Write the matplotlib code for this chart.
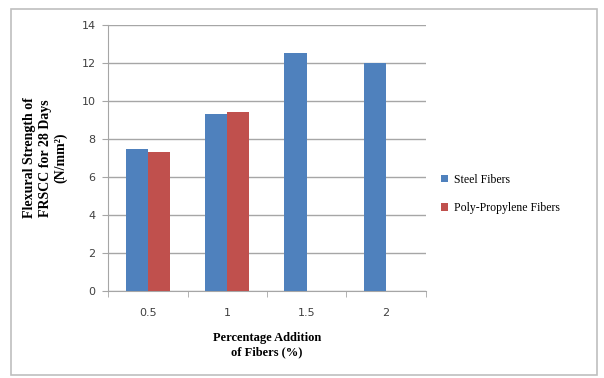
import numpy as np
import matplotlib.pyplot as plt
from matplotlib.patches import Rectangle

categories = ["0.5", "1", "1.5", "2"]
steel = [7.5, 9.3, 12.5, 12.0]
poly = [7.3, 9.4, 0, 0]
series_names = ["Steel Fibers", "Poly-Propylene Fibers"]

blue = "#4F81BD"
red = "#C0504D"
grid_col = "#A6A6A6"

fig = plt.figure(figsize=(6.04, 3.78), dpi=100)
fig.patch.set_facecolor("white")

# outer chart frame
fig.patches.append(Rectangle((0.018, 0.008), 0.971, 0.968, transform=fig.transFigure,
                             fill=False, edgecolor="#BFBFBF", linewidth=1.2))

ax = fig.add_axes([0.179, 0.230, 0.526, 0.704])
x = np.arange(len(categories))
w = 0.28
ax.bar(x - w / 2, steel, w, color=blue, label=series_names[0], zorder=3)
ax.bar(x + w / 2, poly, w, color=red, label=series_names[1], zorder=3)

ax.set_xlim(-0.5, len(categories) - 0.5)
ax.set_ylim(0, 14)
ax.set_yticks(range(0, 15, 2))
ax.set_xticks(x)
ax.set_xticklabels(categories)
ax.set_xticks(np.arange(-0.5, len(categories), 1), minor=True)
ax.yaxis.grid(True, color=grid_col, linewidth=1.0, zorder=0)
ax.set_axisbelow(True)

for s in ["top", "right"]:
    ax.spines[s].set_visible(False)
for s in ["left", "bottom"]:
    ax.spines[s].set_color(grid_col)
ax.tick_params(axis="x", which="major", length=0, pad=12, labelsize=8, labelcolor="#404040")
ax.tick_params(axis="x", which="minor", length=4, color=grid_col)
ax.tick_params(axis="y", length=4, color=grid_col, labelsize=8, labelcolor="#404040", pad=5)

serif = ["Liberation Serif", "DejaVu Serif"]
ax.set_xlabel("Percentage Addition\nof Fibers (%)", family=serif, fontweight="bold",
              fontsize=9, labelpad=10, linespacing=1.25)
ax.set_ylabel("Flexural Strength of\nFRSCC for 28 Days\n(N/mm²)", family=serif,
              fontweight="bold", fontsize=10, labelpad=10, linespacing=1.25)

leg = fig.legend(loc="center left", bbox_to_anchor=(0.712, 0.487), frameon=False,
                 prop={"family": serif, "size": 8.5}, handlelength=0.6, handleheight=0.6,
                 handletextpad=0.5, labelspacing=1.4)

fig.savefig("out.png", dpi=100, facecolor="white")
